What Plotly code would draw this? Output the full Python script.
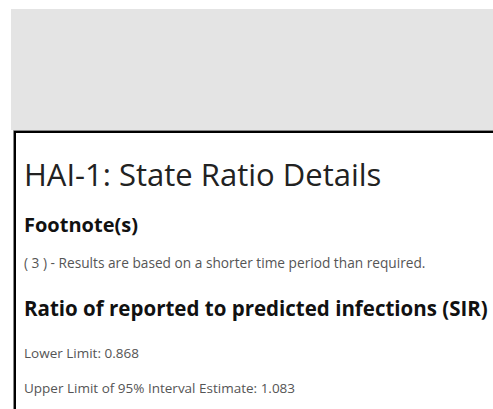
import plotly.graph_objects as go

W, H = 493, 409

title_text = "HAI-1: State Ratio Details"
footnote_heading = "Footnote(s)"
footnote_lines = ["( 3 ) - Results are based on a shorter time period than required."]
sir_heading = "Ratio of reported to predicted infections (SIR)"
limit_labels = ["Lower Limit", "Upper Limit of 95% Interval Estimate"]
limit_values = [0.868, 1.083]

fig = go.Figure()

shapes = [
    dict(type="rect", xref="x", yref="y", x0=11, x1=W + 20, y0=9, y1=130,
         fillcolor="#e4e4e4", line=dict(width=0), layer="below"),
    dict(type="rect", xref="x", yref="y", x0=13.5, x1=W + 20, y0=130.5, y1=H + 20,
         fillcolor="rgba(0,0,0,0)", line=dict(color="#888888", width=1)),
    dict(type="rect", xref="x", yref="y", x0=15, x1=W + 20, y0=132, y1=H + 20,
         fillcolor="rgba(0,0,0,0)", line=dict(color="#000000", width=2)),
]

ann = []
ann.append(dict(x=22, y=173.5, text=title_text, showarrow=False, xanchor="left", yanchor="middle",
                font=dict(family="Open Sans", size=31, color="#222222")))
ann.append(dict(x=22, y=224, text="<b>" + footnote_heading + "</b>", showarrow=False,
                xanchor="left", yanchor="middle",
                font=dict(family="Open Sans", size=20, color="#111111")))
for i, t in enumerate(footnote_lines):
    ann.append(dict(x=22, y=262 + 14 * i, text=t, showarrow=False, xanchor="left", yanchor="middle",
                    font=dict(family="Open Sans", size=13.7, color="#555555")))
ann.append(dict(x=22, y=308, text="<b>" + sir_heading + "</b>", showarrow=False,
                xanchor="left", yanchor="middle",
                font=dict(family="Open Sans", size=20.5, color="#111111")))
for i, (lab, val) in enumerate(zip(limit_labels, limit_values)):
    ann.append(dict(x=22, y=353 + 35 * i, text=f"{lab}: {val:.3f}", showarrow=False,
                    xanchor="left", yanchor="middle",
                    font=dict(family="Open Sans", size=13.5, color="#555555")))

for a in ann:
    a["xref"] = "x"
    a["yref"] = "y"

fig.update_layout(
    width=W, height=H,
    margin=dict(l=0, r=0, t=0, b=0),
    paper_bgcolor="white", plot_bgcolor="white",
    xaxis=dict(range=[0, W], visible=False, fixedrange=True),
    yaxis=dict(range=[H, 0], visible=False, fixedrange=True),
    shapes=shapes, annotations=ann, showlegend=False,
)

fig.write_html(
    "out.html",
    config={"displayModeBar": False},
    post_script="document.body.style.margin='0';document.body.style.overflow='hidden';",
)
